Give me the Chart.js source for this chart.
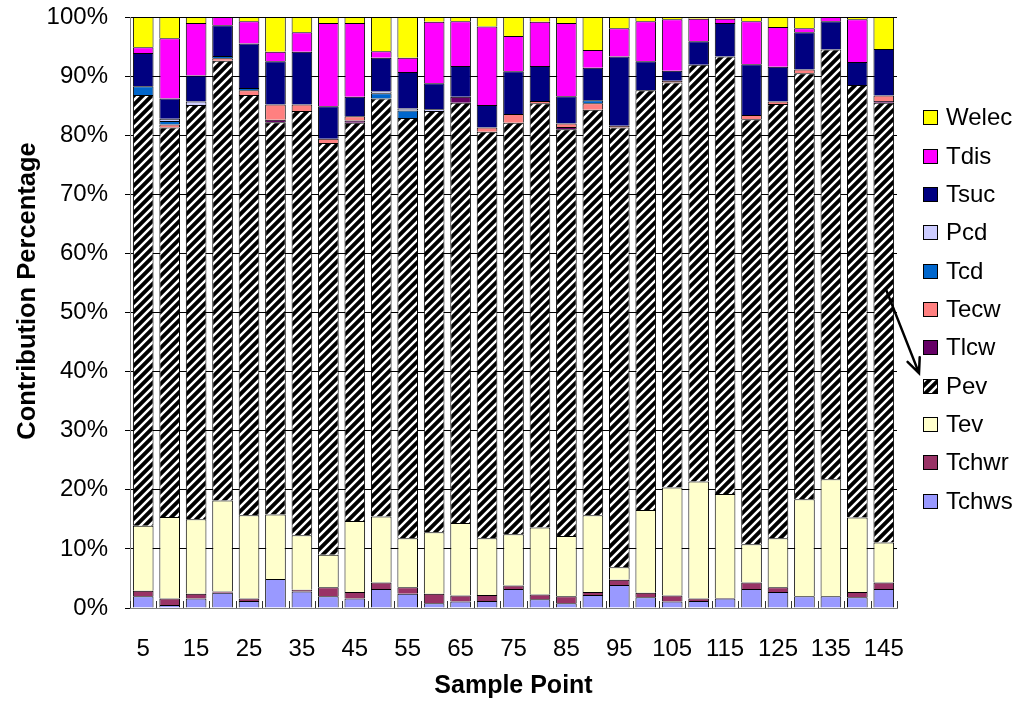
<!DOCTYPE html>
<html>
<head>
<meta charset="utf-8">
<title>Contribution Percentage by Sample Point</title>
<script src="https://cdn.jsdelivr.net/npm/chart.js@4.4.1/dist/chart.umd.min.js"></script>
<style>
  html, body { margin: 0; padding: 0; background: #ffffff; }
  canvas { display: block; }
</style>
</head>
<body>
<canvas id="chart" width="1027" height="702"></canvas>
<script>
// Sample points along the x axis
const samplePoints = [5, 10, 15, 20, 25, 30, 35, 40, 45, 50, 55, 60, 65, 70, 75,
                      80, 85, 90, 95, 100, 105, 110, 115, 120, 125, 130, 135, 140, 145];

// Contribution of each variable (%) at every sample point, bottom of the stack first
const tchws = [2.0, 0.5, 1.6, 2.6, 1.2, 4.9, 2.8, 2.0, 1.6, 3.2, 2.4, 0.8, 1.1, 1.2, 3.2,
               1.5, 0.8, 2.2, 3.9, 1.8, 1.1, 1.2, 1.6, 3.2, 2.7, 2.0, 2.0, 1.8, 3.2];
const tchwr = [0.9, 1.1, 0.8, 0.2, 0.4, 0.0, 0.3, 1.5, 1.1, 1.1, 1.1, 1.6, 1.0, 1.0, 0.6,
               0.8, 1.2, 0.5, 0.9, 0.8, 1.0, 0.4, 0.1, 1.1, 0.8, 0.0, 0.0, 0.9, 1.1];
const tev   = [11.0, 13.8, 12.6, 15.4, 14.1, 10.9, 9.2, 5.5, 12.0, 11.2, 8.3, 10.4, 12.3, 9.6, 8.7,
               11.3, 10.2, 13.0, 2.1, 14.0, 18.3, 19.8, 17.6, 6.5, 8.3, 16.4, 19.8, 12.6, 6.8];
const pev   = [72.9, 65.9, 70.1, 74.4, 71.1, 66.4, 71.8, 69.7, 67.4, 70.7, 71.1, 71.3, 71.1, 68.8, 69.6,
               71.8, 68.8, 68.6, 74.4, 71.0, 68.5, 70.5, 74.0, 71.9, 73.5, 72.1, 72.7, 73.2, 74.4];
const tlcw  = [0, 0, 0, 0, 0, 0.4, 0, 0, 0.4, 0, 0, 0, 1.0, 0, 0,
               0, 0.4, 0, 0, 0, 0, 0, 0, 0, 0, 0, 0, 0, 0.3];
const tecw  = [0, 0.5, 0, 0.4, 0.8, 2.6, 1.1, 0.7, 0.7, 0, 0, 0, 0, 0.7, 1.5,
               0.4, 0.6, 1.1, 0.3, 0, 0.3, 0, 0, 0.7, 0.4, 0.6, 0, 0, 0.9];
const tcd   = [1.5, 0.6, 0, 0.4, 0.4, 0, 0, 0, 0, 0.9, 1.3, 0, 0, 0, 0,
               0, 0, 0.5, 0, 0, 0, 0, 0, 0, 0, 0, 0, 0, 0];
const pcd   = [0, 0.4, 0.6, 0, 0, 0, 0, 0, 0, 0.3, 0.3, 0.3, 0, 0, 0,
               0, 0, 0, 0, 0, 0, 0, 0, 0, 0, 0, 0, 0, 0];
const tsuc  = [5.6, 3.4, 4.4, 5.2, 7.5, 7.3, 8.9, 5.5, 3.3, 5.7, 6.2, 4.4, 5.2, 3.8, 7.2,
               5.9, 4.6, 5.5, 11.7, 4.9, 1.7, 4.0, 5.7, 8.6, 5.9, 6.3, 4.8, 3.9, 7.9];
const tdis  = [1.0, 10.2, 8.9, 1.4, 3.8, 1.6, 3.3, 14.1, 12.5, 1.1, 2.4, 10.4, 7.6, 13.3, 6.0,
               7.5, 12.4, 3.0, 4.8, 6.8, 8.7, 3.8, 0.7, 7.3, 6.7, 0.7, 0.7, 7.2, 0];
const welec = [5.1, 3.6, 1.0, 0, 0.7, 5.9, 2.6, 1.0, 1.0, 5.8, 6.9, 0.8, 0.7, 1.6, 3.2,
               0.8, 1.0, 5.6, 1.9, 0.7, 0.4, 0.3, 0.3, 0.7, 1.7, 1.9, 0, 0.4, 5.4];

// Y axis tick values (percent)
const yTicks = [0, 10, 20, 30, 40, 50, 60, 70, 80, 90, 100];
const yTitle = 'Contribution Percentage';

const FONT = '"Liberation Sans", Arial, Helvetica, sans-serif';
const canvas = document.getElementById('chart');
const ctx0 = canvas.getContext('2d');

// Black fill with white "/" diagonal stripes for Pev
function stripePattern() {
  const s = 9;
  const p = document.createElement('canvas');
  p.width = s; p.height = s;
  const g = p.getContext('2d');
  g.fillStyle = '#000000';
  g.fillRect(0, 0, s, s);
  g.strokeStyle = '#ffffff';
  g.lineWidth = 2.5;
  g.beginPath();
  g.moveTo(-1, s + 1); g.lineTo(s + 1, -1);
  g.moveTo(-2, 2); g.lineTo(2, -2);
  g.moveTo(s - 2, s + 2); g.lineTo(s + 2, s - 2);
  g.stroke();
  return ctx0.createPattern(p, 'repeat');
}
const pevFill = stripePattern();

function series(label, data, color) {
  return {
    label: label,
    data: data,
    backgroundColor: color,
    borderColor: '#000000',
    borderWidth: 1,
    barPercentage: 0.78,
    categoryPercentage: 1.0
  };
}

const datasets = [
  series('Tchws', tchws, '#9999FF'),
  series('Tchwr', tchwr, '#993366'),
  series('Tev',   tev,   '#FFFFCC'),
  series('Pev',   pev,   pevFill),
  series('Tlcw',  tlcw,  '#660066'),
  series('Tecw',  tecw,  '#FF8080'),
  series('Tcd',   tcd,   '#0066CC'),
  series('Pcd',   pcd,   '#CCCCFF'),
  series('Tsuc',  tsuc,  '#000080'),
  series('Tdis',  tdis,  '#FF00FF'),
  series('Welec', welec, '#FFFF00')
];

// Inside tick marks on the category axis, the y title, the side legend and the pointer arrow
const decorations = {
  id: 'decorations',
  afterDatasetsDraw(chart) {
    const { ctx, chartArea } = chart;
    const n = samplePoints.length;
    const step = (chartArea.right - chartArea.left) / n;
    ctx.save();
    ctx.strokeStyle = '#333333';
    ctx.lineWidth = 1;
    ctx.beginPath();
    for (let i = 0; i <= n; i++) {
      const x = Math.round(chartArea.left + i * step) + 0.5;
      ctx.moveTo(x, chartArea.bottom);
      ctx.lineTo(x, chartArea.bottom - 7);
    }
    ctx.stroke();
    ctx.restore();
  },
  afterDraw(chart) {
    const { ctx, chartArea, scales } = chart;
    ctx.save();

    // vertical axis title
    ctx.save();
    ctx.translate(28, chartArea.top + 274);
    ctx.rotate(-Math.PI / 2);
    ctx.font = 'bold 25.5px ' + FONT;
    ctx.fillStyle = '#000000';
    ctx.textAlign = 'center';
    ctx.textBaseline = 'middle';
    ctx.fillText(yTitle, 0, 0);
    ctx.restore();

    // legend, top entry = last series
    const items = chart.data.datasets.slice().reverse();
    const boxX = chartArea.right + 26;
    const top = 117.7, gap = 38.35, box = 15;
    ctx.font = '24px ' + FONT;
    ctx.textBaseline = 'middle';
    ctx.textAlign = 'left';
    items.forEach((d, k) => {
      const cy = top + k * gap;
      ctx.fillStyle = d.backgroundColor;
      ctx.fillRect(boxX, Math.round(cy - box / 2), box, box);
      ctx.strokeStyle = '#000000';
      ctx.lineWidth = 1;
      ctx.strokeRect(boxX + 0.5, Math.round(cy - box / 2) + 0.5, box - 1, box - 1);
      ctx.fillStyle = '#000000';
      ctx.fillText(d.label, boxX + 23, cy + 1);
    });

    // arrow from the Pev segment of the last bar to its legend entry
    const last = samplePoints.length - 1;
    const x0 = scales.x.getPixelForValue(last) + 2;
    const y0 = scales.y.getPixelForValue(54);
    const pevIndex = items.findIndex(d => d.label === 'Pev');
    const x1 = boxX - 4;
    const y1 = top + pevIndex * gap - 13;
    ctx.strokeStyle = '#000000';
    ctx.lineWidth = 2.5;
    ctx.lineCap = 'round';
    ctx.beginPath();
    ctx.moveTo(x0, y0);
    ctx.lineTo(x1, y1);
    const ang = Math.atan2(y1 - y0, x1 - x0);
    const len = 16, spread = 0.42;
    ctx.moveTo(x1 - len * Math.cos(ang - spread), y1 - len * Math.sin(ang - spread));
    ctx.lineTo(x1, y1);
    ctx.lineTo(x1 - len * Math.cos(ang + spread), y1 - len * Math.sin(ang + spread));
    ctx.stroke();
    ctx.restore();
  }
};

new Chart(canvas, {
  type: 'bar',
  data: { labels: samplePoints.map(String), datasets: datasets },
  plugins: [decorations],
  options: {
    responsive: false,
    animation: false,
    devicePixelRatio: 1,
    layout: { padding: { top: 17, right: 130, bottom: 0, left: 0 } },
    plugins: {
      legend: { display: false },
      tooltip: { enabled: false },
      title: { display: false }
    },
    scales: {
      x: {
        stacked: true,
        grid: { display: false },
        border: { display: true, color: '#808080', width: 1 },
        ticks: {
          autoSkip: false,
          maxRotation: 0,
          minRotation: 0,
          padding: 19,
          color: '#000000',
          font: { family: FONT, size: 24 },
          callback: function (value, index) {
            return index % 2 === 0 ? samplePoints[index] : '';
          }
        },
        title: {
          display: true,
          text: 'Sample Point',
          color: '#000000',
          font: { family: FONT, size: 25, weight: 'bold' },
          padding: { top: 0, bottom: 1 }
        },
        afterFit(scale) {
          scale.height = 94;
          scale.paddingLeft = 0;
          scale.paddingRight = 0;
        }
      },
      y: {
        stacked: true,
        min: 0,
        max: 100,
        grid: {
          color: '#000000',
          lineWidth: 1,
          drawTicks: true,
          tickLength: 5,
          tickColor: '#000000'
        },
        border: { display: true, color: '#808080', width: 1 },
        afterBuildTicks(scale) { scale.ticks = yTicks.map(v => ({ value: v })); },
        ticks: {
          padding: 17,
          color: '#000000',
          font: { family: FONT, size: 24 },
          callback: function (value) { return value + '%'; }
        },
        title: { display: false },
        afterFit(scale) {
          scale.width = 130;
          scale.paddingTop = 0;
          scale.paddingBottom = 0;
        }
      }
    }
  }
});
</script>
</body>
</html>
